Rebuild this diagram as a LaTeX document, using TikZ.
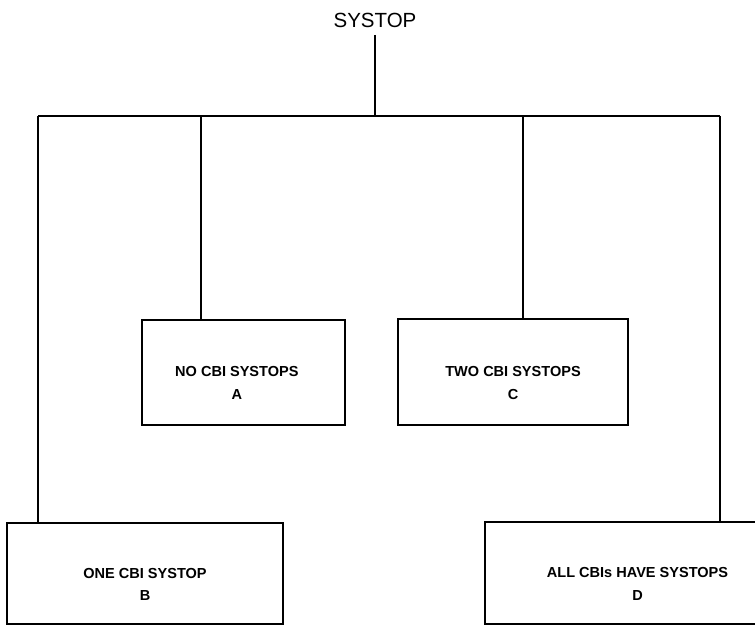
\documentclass[tikz,border=0pt]{standalone}
\usepackage{fontspec}
\setmainfont{Liberation Sans}

\begin{document}
\begin{tikzpicture}[x=0.03cm,y=-0.03cm,
    wire/.style={line width=1.8pt},
    casebox/.style={draw,line width=2.2pt,inner sep=0pt},
    caselbl/.style={align=center,font=\bfseries\fontsize{12.4}{19.5}\selectfont}]
          \useasboundingbox (0,0) rectangle (755,626);
          \clip (0,0) rectangle (755,626);
          \node[font=\fontsize{17.5}{20}\selectfont,anchor=base,inner sep=0pt,outer ysep=0.2cm] (Top) at (375,28) {SYSTOP};
          % the bar and its taps
          \coordinate (BarL) at (38,116);
          \coordinate (BarR) at (720,116);
          \coordinate (TapA) at (201,116);
          \coordinate (TapC) at (523,116);
          \draw[wire] (Top.south) -- (Top.south |- BarL);
          \draw[wire] (BarL) -- (BarR);
          % the four cases
          \node[casebox,minimum width=203*0.03cm,minimum height=105*0.03cm] (NoSys) at (243.5,372.5) {};
          \node[casebox,minimum width=230*0.03cm,minimum height=106*0.03cm] (TwoSys) at (513,372) {};
          \node[casebox,minimum width=276*0.03cm,minimum height=101*0.03cm] (OneSys) at (145,573.5) {};
          \node[casebox,minimum width=345*0.03cm,minimum height=102*0.03cm] (AllSys) at (657.5,573) {};
          \node[caselbl] at ([xshift=-0.2cm,yshift=-0.32cm]NoSys.center) {NO CBI SYSTOPS\\A};
          \node[caselbl] at ([yshift=-0.32cm]TwoSys.center) {TWO CBI SYSTOPS\\C};
          \node[caselbl] at ([yshift=-0.33cm]OneSys.center) {ONE CBI SYSTOP\\B};
          \node[caselbl] at ([xshift=-0.6cm,yshift=-0.33cm]AllSys.center) {ALL CBIs HAVE SYSTOPS\\D};
          \draw[wire] (TapA) -- (TapA |- NoSys.north);
          \draw[wire] (TapC) -- (TapC |- TwoSys.north);
          \draw[wire] (BarL) -- (BarL |- OneSys.north);
          \draw[wire] (BarR) -- (BarR |- AllSys.north);
        \end{tikzpicture}
\end{document}
